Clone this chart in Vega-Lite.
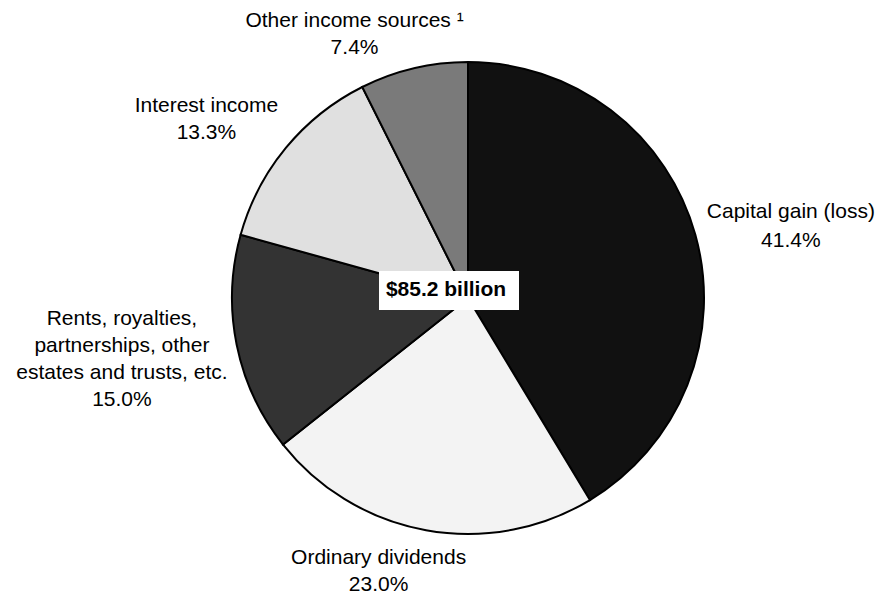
{
  "$schema": "https://vega.github.io/schema/vega-lite/v6.json",
  "autosize": {"type": "none"},
  "width": 824,
  "height": 592,
  "padding": {"left": 56, "top": 2, "right": 0, "bottom": 0},
  "background": "white",
  "config": {"view": {"stroke": null}, "text": {"font": "Liberation Sans"}},
  "data": {
    "values": [
      {"idx": 1, "category": "Capital gain (loss)", "share": 0.414, "label": ["Capital gain (loss)", "41.4%"]},
      {"idx": 2, "category": "Ordinary dividends", "share": 0.230, "label": ["Ordinary dividends", "23.0%"]},
      {"idx": 3, "category": "Rents, royalties, partnerships, other estates and trusts, etc.", "share": 0.150, "label": ["Rents, royalties,", "partnerships, other", "estates and trusts, etc.", "15.0%"]},
      {"idx": 4, "category": "Interest income", "share": 0.133, "label": ["Interest income", "13.3%"]},
      {"idx": 5, "category": "Other income sources", "share": 0.074, "label": ["Other income sources \u00b9", "7.4%"]}
    ]
  },
  "encoding": {
    "theta": {"field": "share", "type": "quantitative", "stack": true},
    "order": {"field": "idx", "type": "quantitative"}
  },
  "layer": [
    {
      "mark": {"type": "arc", "radius": 236, "stroke": "black", "strokeWidth": 2},
      "encoding": {
        "color": {
          "field": "category",
          "type": "nominal",
          "scale": {
            "domain": ["Capital gain (loss)", "Ordinary dividends", "Rents, royalties, partnerships, other estates and trusts, etc.", "Interest income", "Other income sources"],
            "range": ["#111111", "#f3f3f3", "#333333", "#e0e0e0", "#7a7a7a"]
          },
          "legend": null
        }
      }
    },
    {
      "data": {"values": [{"total": "$85.2 billion"}]},
      "mark": {"type": "point", "shape": "M-1.2714,-0.3857H0.7286V0.1714H-1.2714Z", "size": 19600, "filled": true, "fill": "white", "opacity": 1, "strokeWidth": 0},
      "encoding": {"theta": null, "order": null}
    },
    {
      "data": {"values": [{"total": "$85.2 billion"}]},
      "mark": {"type": "text", "fontSize": 21, "fontWeight": "bold", "align": "center", "baseline": "middle", "dx": -22, "dy": -8, "color": "black"},
      "encoding": {"theta": null, "order": null, "text": {"field": "total", "type": "nominal"}}
    },
    {
      "mark": {"type": "text", "radius": 331, "dx": 4, "dy": 3, "fontSize": 21, "lineHeight": 28.5, "align": "center", "baseline": "middle", "color": "black"},
      "encoding": {"detail": {"field": "category"}, "text": {"condition": {"test": "datum.idx === 1", "field": "label", "type": "nominal"}, "value": ""}}
    },
    {
      "mark": {"type": "text", "radius": 272, "dx": -41, "dy": -8, "fontSize": 21, "lineHeight": 27, "align": "center", "baseline": "middle", "color": "black"},
      "encoding": {"detail": {"field": "category"}, "text": {"condition": {"test": "datum.idx === 2", "field": "label", "type": "nominal"}, "value": ""}}
    },
    {
      "mark": {"type": "text", "radius": 350, "dx": -3, "dy": -48, "fontSize": 21, "lineHeight": 27, "align": "center", "baseline": "middle", "color": "black"},
      "encoding": {"detail": {"field": "category"}, "text": {"condition": {"test": "datum.idx === 3", "field": "label", "type": "nominal"}, "value": ""}}
    },
    {
      "mark": {"type": "text", "radius": 300, "dx": -30, "dy": -1, "fontSize": 21, "lineHeight": 27, "align": "center", "baseline": "middle", "color": "black"},
      "encoding": {"detail": {"field": "category"}, "text": {"condition": {"test": "datum.idx === 4", "field": "label", "type": "nominal"}, "value": ""}}
    },
    {
      "mark": {"type": "text", "radius": 280, "dx": -49, "dy": -5, "fontSize": 21, "lineHeight": 27, "align": "center", "baseline": "middle", "color": "black"},
      "encoding": {"detail": {"field": "category"}, "text": {"condition": {"test": "datum.idx === 5", "field": "label", "type": "nominal"}, "value": ""}}
    }
  ]
}
